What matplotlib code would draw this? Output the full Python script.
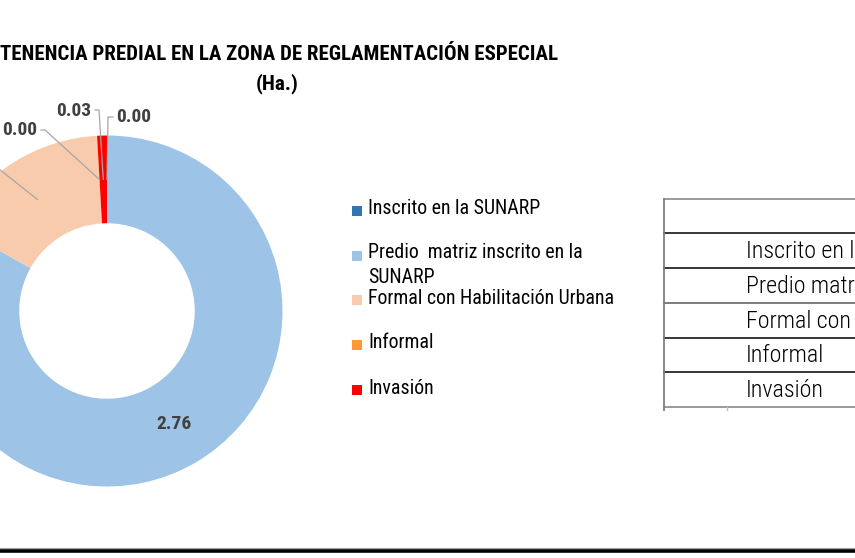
import numpy as np
import matplotlib.pyplot as plt
from matplotlib import font_manager
from matplotlib.patches import Rectangle

# Data
categories = ['Inscrito en la SUNARP', 'Predio  matriz inscrito en la\nSUNARP',
              'Formal con Habilitación Urbana', 'Informal', 'Invasión']
table_rows = ['Inscrito en la SUNARP', 'Predio matriz inscrito en la SUNARP',
              'Formal con Habilitación Urbana', 'Informal', 'Invasión']
values = [0.00, 2.76, 0.53, 0.00, 0.03]
colors = ['#2E75B6', '#9DC3E6', '#F8CBAD', '#FF9933', '#FF0000']

W, H = 855, 558

# look for a narrow / condensed sans family
fonts = font_manager.fontManager.ttflist
names = {f.name for f in fonts}
narrow = None
for cand in ['Liberation Sans Narrow', 'Roboto Condensed', 'Open Sans Condensed',
             'Arial Narrow', 'Noto Sans Condensed']:
    if cand in names:
        narrow = cand
        break
if narrow is None:
    cond = [f.name for f in fonts if f.stretch != 'normal' or 'Condensed' in f.fname
            or 'Narrow' in f.fname]
    narrow = 'DejaVu Sans' if 'DejaVu Sans' in cond or not cond else cond[0]
plt.rcParams['font.family'] = [narrow, 'DejaVu Sans']
plt.rcParams['font.stretch'] = 'condensed'


def py(y):
    # image row -> data y
    return H - y


fig = plt.figure(figsize=(W / 100, H / 100), dpi=100)
ax = fig.add_axes([0, 0, 1, 1])

cx, cy, R = 107, py(311), 175.5
wedges, _ = ax.pie(values, colors=colors, startangle=90, counterclock=False,
                   radius=R, center=(cx, cy),
                   wedgeprops=dict(width=R * 0.5, edgecolor='none'))
ax.set_xlim(0, W)
ax.set_ylim(0, H)
ax.set_aspect('equal')
ax.axis('off')


def mid_point(w, r):
    a = np.deg2rad((w.theta1 + w.theta2) / 2)
    return cx + r * np.cos(a), cy + r * np.sin(a)


lab_kw = dict(fontsize=14, fontweight='bold', color='#404040', va='center')
lead_kw = dict(color='#A6A6A6', lw=0.9)
rm = R * 0.75

# Big slice label inside
x, y = mid_point(wedges[1], rm)
ax.text(x, y + 1, f'{values[1]:.2f}', ha='center', **lab_kw)

# Leader-line labels: (index, elbow, line end, text pos, ha)
leaders = [
    (0, (108, py(117)), (113, py(117)), (116, py(117)), 'left'),
    (4, (99, py(110)), (95, py(110)), (91, py(111)), 'right'),
    (3, (45, py(130)), (41, py(130)), (37, py(130)), 'right'),
]
for i, elbow, end, tpos, ha in leaders:
    x, y = mid_point(wedges[i], rm)
    ax.plot([x, elbow[0], end[0]], [y, elbow[1], end[1]], **lead_kw)
    ax.text(tpos[0], tpos[1], f'{values[i]:.2f}', ha=ha, **lab_kw)
# the Formal label sits off the left edge; only its leader shows
x, y = mid_point(wedges[2], rm)
ax.plot([x, -20], [y, py(154)], **lead_kw)

# Title
ax.text(279, py(55), 'TENENCIA PREDIAL EN LA ZONA DE REGLAMENTACIÓN ESPECIAL',
        ha='center', va='center', fontsize=15, fontweight='bold', color='black')
ax.text(277, py(84), '(Ha.)', ha='center', va='center', fontsize=15.2,
        fontweight='bold', color='black')

# Legend
leg_y = [209, 254, 298, 343, 388]
for lab, c, ly in zip(categories, colors, leg_y):
    ax.add_patch(Rectangle((351.5, py(ly + 6.5)), 10, 10, color=c, lw=0))
    if '\n' in lab:
        ax.text(368, py(ly - 11), lab, ha='left', va='top', fontsize=14.3,
                color='black', linespacing=1.4)
    else:
        ax.text(368, py(ly), lab, ha='left', va='center', fontsize=14.3,
                color='black')

# Table on the right
row_lines = [199, 233, 268, 303, 338, 372, 407]
line_cols = ['#7F7F7F', 'black', 'black', '#595959', 'black', 'black', '#7F7F7F']
for yl, lc in zip(row_lines, line_cols):
    ax.plot([664, W], [py(yl), py(yl)], color=lc, lw=1.1)
ax.plot([664, 664], [py(199), py(410)], color='#7F7F7F', lw=1.3)
ax.plot([727, 727], [py(407), py(410)], color='#BFBFBF', lw=1)
for k, txt in enumerate(table_rows):
    yc = (row_lines[k + 1] + row_lines[k + 2]) / 2 + 1
    ax.text(746, py(yc), txt, ha='left', va='center', fontweight='light',
            fontsize=17.3, color='black', clip_on=True)

# Bottom rule
ax.axhline(py(548.3), color='#A0A0A0', lw=0.8)
ax.axhline(py(551), color='black', lw=2.6)

fig.savefig('out.png', dpi=100)
